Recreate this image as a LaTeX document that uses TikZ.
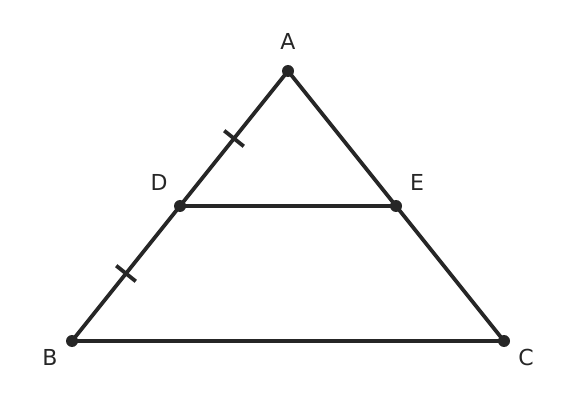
\documentclass[tikz,border=0pt]{standalone}
\usepackage{fontspec}
\setmainfont{DejaVu Sans}
\usetikzlibrary{calc}

\begin{document}
\begin{tikzpicture}[x=1pt,y=1pt,
  seg/.style={line width=3.8pt,draw=black!85,line cap=round},
  dot/.style={circle,fill=black!85,inner sep=0pt,minimum size=12pt},
  lbl/.style={font=\fontsize{22}{26}\selectfont,text=black!85}]
\useasboundingbox (0,0) rectangle (576,413);
\node[dot] (A) at (288,342) {};
\node[dot] (B) at (72,72) {};
\node[dot] (C) at (504,72) {};
\node[dot] (D) at (180,207) {};
\node[dot] (E) at (396,207) {};
\node[lbl] (lA) at (288,372) {A};
\node[lbl] (lB) at (50,56) {B};
\node[lbl] (lC) at (526,56) {C};
\node[lbl] (lD) at (159,231) {D};
\node[lbl] (lE) at (417,231) {E};
\draw[seg] (A.center) -- (B.center) -- (C.center) -- cycle;
\draw[seg] (D.center) -- (E.center);
% equal-length marks
\coordinate (m1) at ($(A)!0.5!(D)$);
\coordinate (m2) at ($(D)!0.5!(B)$);
\draw[seg,line cap=butt] ($(m1)!12.5pt!90:(D)$) -- ($(m1)!12.5pt!-90:(D)$);
\draw[seg,line cap=butt] ($(m2)!12.5pt!90:(B)$) -- ($(m2)!12.5pt!-90:(B)$);
\end{tikzpicture}
\end{document}
